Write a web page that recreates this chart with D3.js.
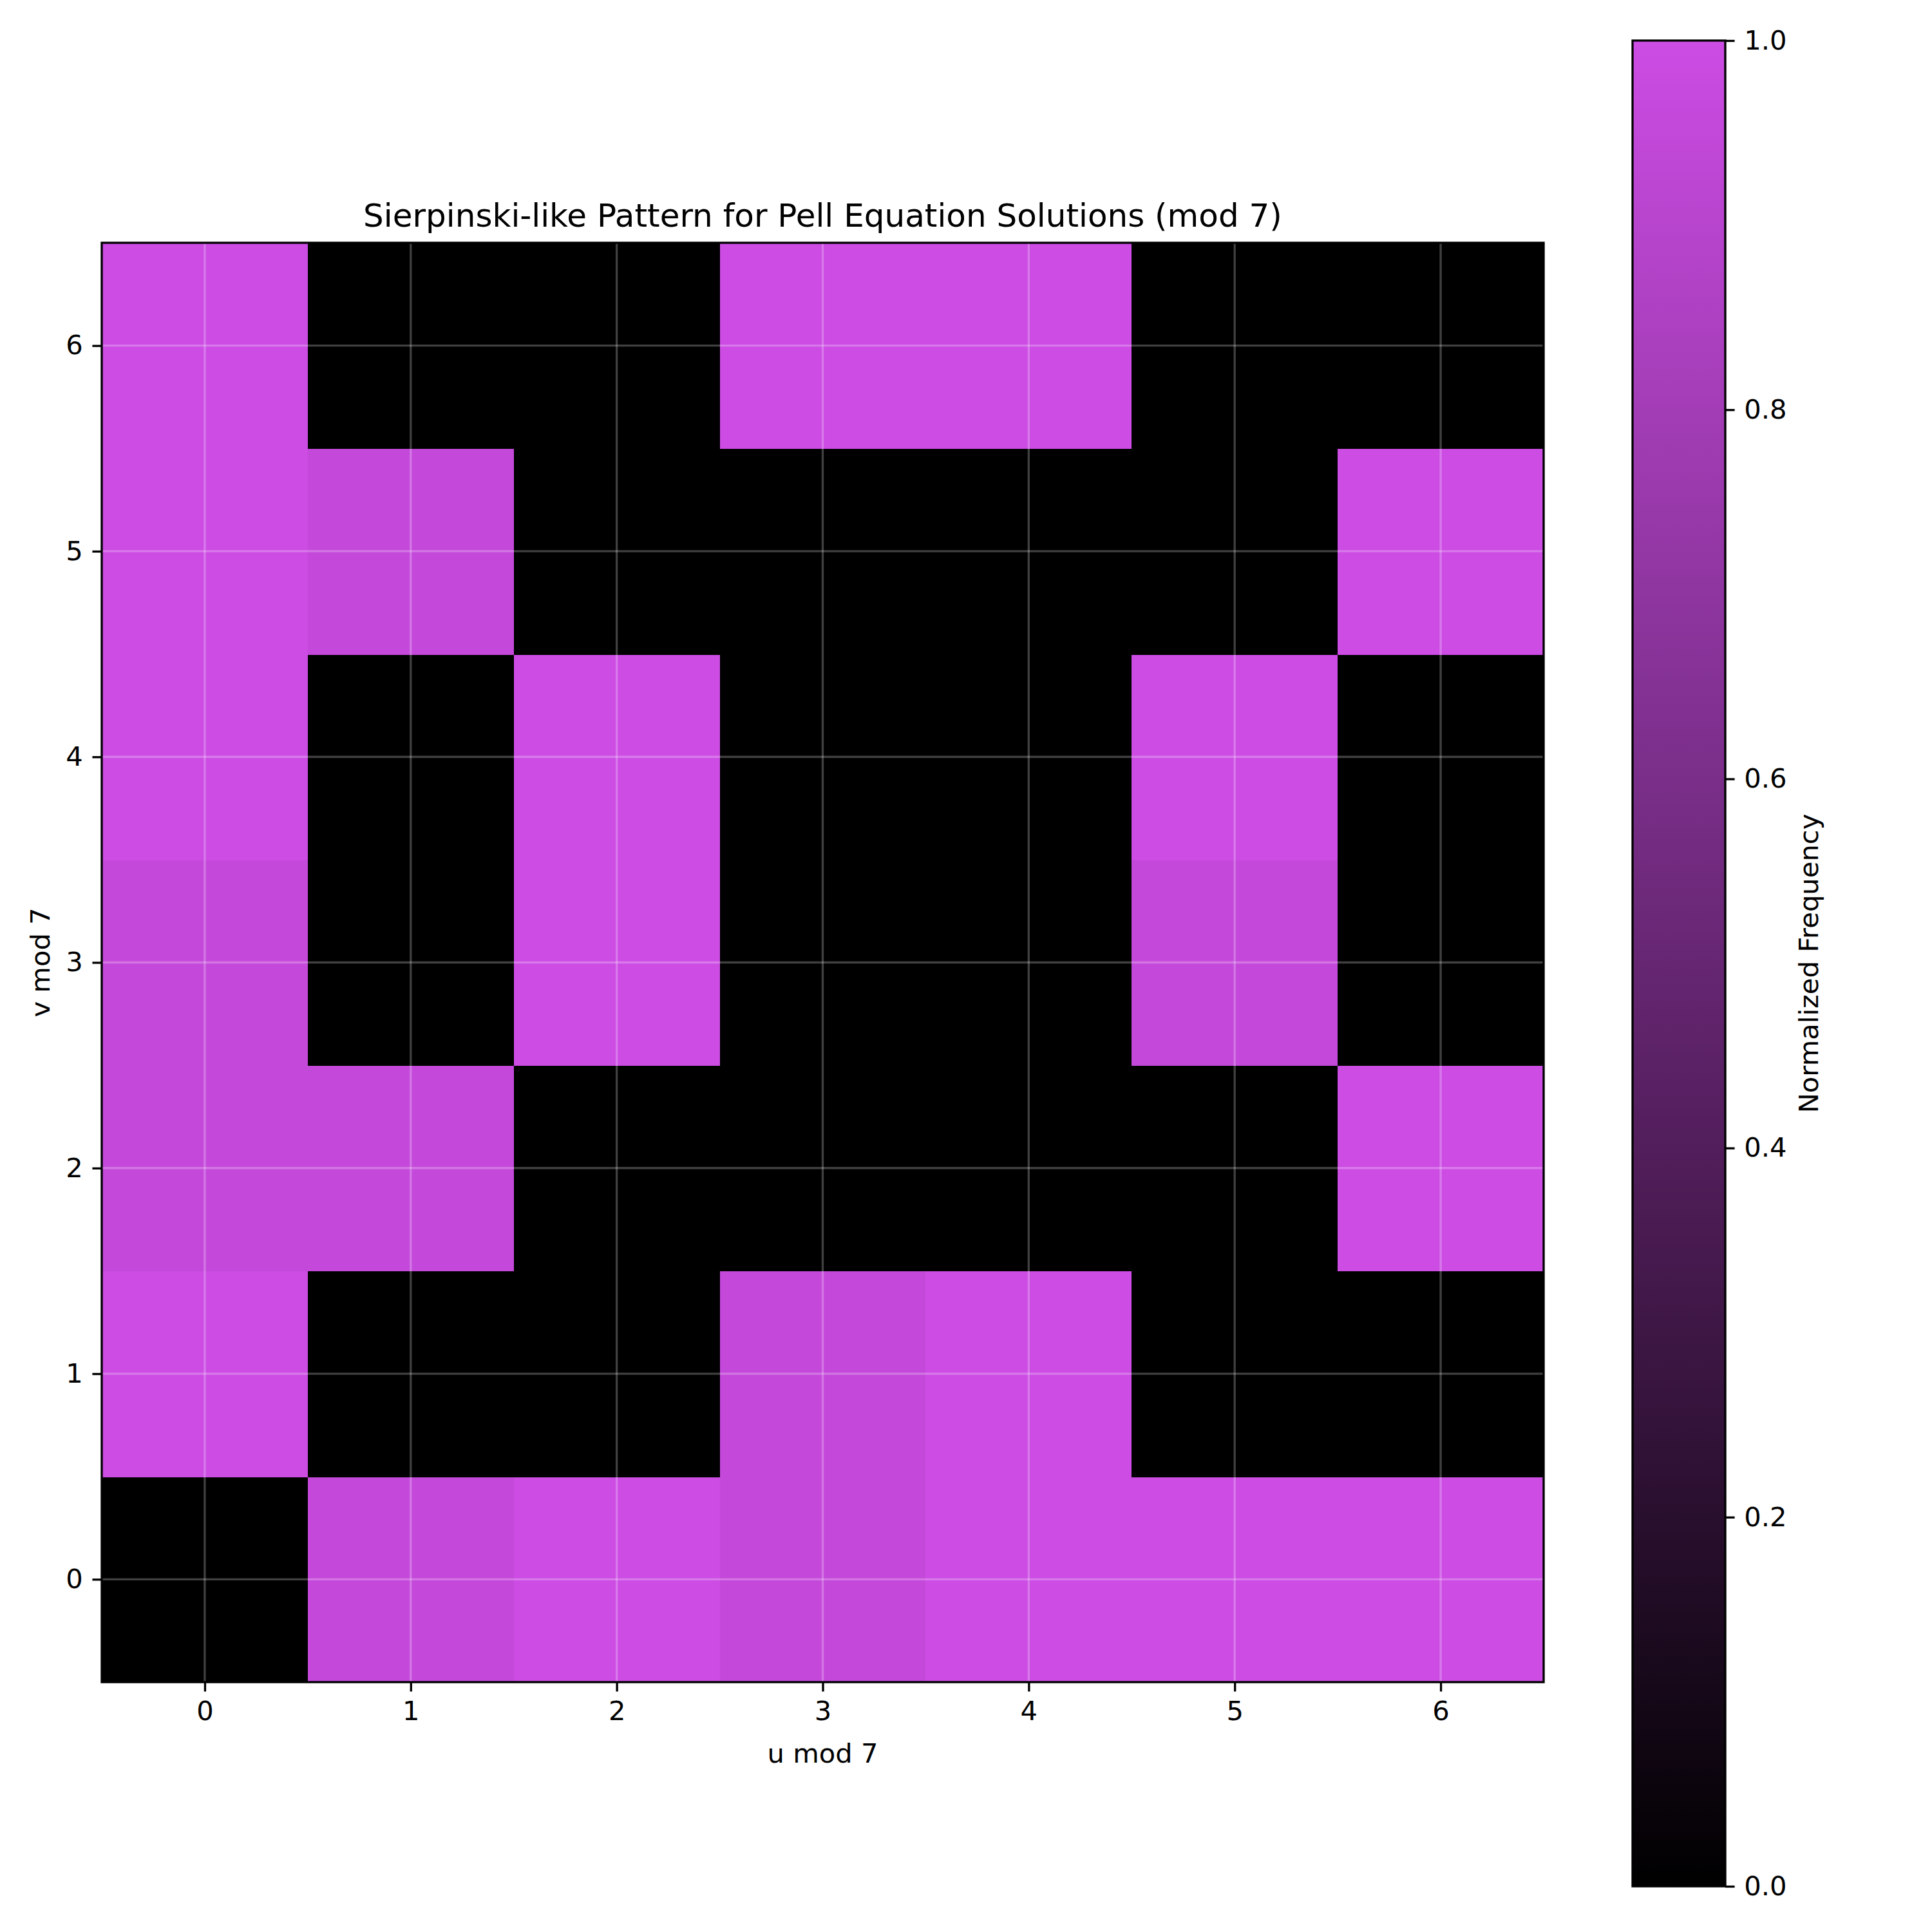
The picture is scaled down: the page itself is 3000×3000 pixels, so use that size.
<!DOCTYPE html>
<html>
<head>
<meta charset="utf-8">
<script src="https://cdn.jsdelivr.net/npm/d3@7"></script>
<style>
  body { margin: 0; background: #fff; }
  svg text { font-family: "DejaVu Sans", sans-serif; fill: #000; }
</style>
</head>
<body>
<div id="chart"></div>
<script>
// residues along each axis
const uValues = [0, 1, 2, 3, 4, 5, 6];
const vValues = [0, 1, 2, 3, 4, 5, 6];

// normalized frequency, one row per v (v = 0 first), columns u = 0..6
const freqV0 = [0, 0.96, 1, 0.96, 1, 1, 1];
const freqV1 = [1, 0, 0, 0.96, 1, 0, 0];
const freqV2 = [0.96, 0.96, 0, 0, 0, 0, 1];
const freqV3 = [0.96, 0, 1, 0, 0, 0.96, 0];
const freqV4 = [1, 0, 1, 0, 0, 1, 0];
const freqV5 = [1, 0.96, 0, 0, 0, 0, 1];
const freqV6 = [1, 0, 0, 1, 1, 0, 0];
const freqRows = [freqV0, freqV1, freqV2, freqV3, freqV4, freqV5, freqV6];

const colorbarTicks = [0, 0.2, 0.4, 0.6, 0.8, 1.0];

const config = {
  width: 3000, height: 3000,
  left: 158, right: 2397, top: 377, bottom: 2612,
  cbLeft: 2535, cbRight: 2679, cbTop: 63, cbBottom: 2929
};
const pt = 300 / 72;
const fontSize = 10 * pt;
const lw = 0.8 * pt;
const tickLen = 3.5 * pt;

const svg = d3.select('#chart')
  .append('svg')
  .attr('width', config.width)
  .attr('height', config.height)
  .attr('viewBox', [0, 0, config.width, config.height]);

const xScale = d3.scaleLinear().domain([-0.5, 6.5]).range([config.left, config.right]);
const yScale = d3.scaleLinear().domain([-0.5, 6.5]).range([config.bottom, config.top]);
const color = d3.scaleLinear().domain([0, 1]).range(['#000000', '#cc4ce4']).interpolate(d3.interpolateRgb);

let cells = [];
freqRows.forEach((row, v) => row.forEach((val, u) => cells.push({u: uValues[u], v: vValues[v], val})));

const plot = svg.append('g');

plot.selectAll('rect.cell')
  .data(cells)
  .enter()
  .append('rect')
  .attr('class', 'cell')
  .attr('shape-rendering', 'crispEdges')
  .attr('x', d => xScale(d.u - 0.5))
  .attr('y', d => yScale(d.v + 0.5))
  .attr('width', d => xScale(d.u + 0.5) - xScale(d.u - 0.5) + 1)
  .attr('height', d => yScale(d.v - 0.5) - yScale(d.v + 0.5) + 1)
  .attr('fill', d => color(d.val));

// grid
plot.selectAll('line.gx')
  .data(uValues)
  .enter()
  .append('line')
  .attr('x1', d => xScale(d)).attr('x2', d => xScale(d))
  .attr('y1', config.top).attr('y2', config.bottom)
  .attr('stroke', '#fff').attr('stroke-opacity', 0.25).attr('stroke-width', lw);

plot.selectAll('line.gy')
  .data(vValues)
  .enter()
  .append('line')
  .attr('y1', d => yScale(d)).attr('y2', d => yScale(d))
  .attr('x1', config.left).attr('x2', config.right)
  .attr('stroke', '#fff').attr('stroke-opacity', 0.25).attr('stroke-width', lw);

// spines
plot.append('rect')
  .attr('x', config.left).attr('y', config.top)
  .attr('width', config.right - config.left)
  .attr('height', config.bottom - config.top)
  .attr('fill', 'none').attr('stroke', '#000').attr('stroke-width', lw);

const xAxis = d3.axisBottom(xScale).tickValues(uValues).tickSize(tickLen).tickPadding(tickLen).tickFormat(d3.format('d'));
const yAxis = d3.axisLeft(yScale).tickValues(vValues).tickSize(tickLen).tickPadding(tickLen).tickFormat(d3.format('d'));

const gx = svg.append('g').attr('transform', `translate(0,${config.bottom})`).call(xAxis);
const gy = svg.append('g').attr('transform', `translate(${config.left},0)`).call(yAxis);

[gx, gy].forEach(g => {
  g.select('.domain').remove();
  g.selectAll('.tick line').attr('stroke', '#000').attr('stroke-width', lw);
  g.selectAll('.tick text').attr('font-size', fontSize).attr('font-family', 'DejaVu Sans');
});

// labels
svg.append('text')
  .attr('x', (config.left + config.right) / 2)
  .attr('y', 2737)
  .attr('text-anchor', 'middle')
  .attr('font-size', fontSize)
  .text('u mod 7');

svg.append('text')
  .attr('transform', `translate(77,${(config.top + config.bottom) / 2}) rotate(-90)`)
  .attr('text-anchor', 'middle')
  .attr('font-size', fontSize)
  .text('v mod 7');

svg.append('text')
  .attr('x', (config.left + config.right) / 2)
  .attr('y', 352)
  .attr('text-anchor', 'middle')
  .attr('font-size', 12 * pt)
  .text('Sierpinski-like Pattern for Pell Equation Solutions (mod 7)');

// colorbar
const defs = svg.append('defs');
const grad = defs.append('linearGradient')
  .attr('id', 'cbgrad')
  .attr('x1', 0).attr('y1', 1).attr('x2', 0).attr('y2', 0);
grad.selectAll('stop')
  .data(colorbarTicks)
  .enter()
  .append('stop')
  .attr('offset', d => d)
  .attr('stop-color', d => color(d));

const cbScale = d3.scaleLinear().domain([0, 1]).range([config.cbBottom, config.cbTop]);

svg.append('rect')
  .attr('x', config.cbLeft).attr('y', config.cbTop)
  .attr('width', config.cbRight - config.cbLeft)
  .attr('height', config.cbBottom - config.cbTop)
  .attr('fill', 'url(#cbgrad)')
  .attr('stroke', '#000').attr('stroke-width', lw);

const cbAxis = d3.axisRight(cbScale).tickValues(colorbarTicks).tickSize(tickLen).tickPadding(tickLen).tickFormat(d3.format('.1f'));
const gcb = svg.append('g').attr('transform', `translate(${config.cbRight},0)`).call(cbAxis);
gcb.select('.domain').remove();
gcb.selectAll('.tick line').attr('stroke', '#000').attr('stroke-width', lw);
gcb.selectAll('.tick text').attr('font-size', fontSize).attr('font-family', 'DejaVu Sans');

svg.append('text')
  .attr('transform', `translate(2823,${(config.cbTop + config.cbBottom) / 2}) rotate(-90)`)
  .attr('text-anchor', 'middle')
  .attr('font-size', fontSize)
  .text('Normalized Frequency');
</script>
</body>
</html>
